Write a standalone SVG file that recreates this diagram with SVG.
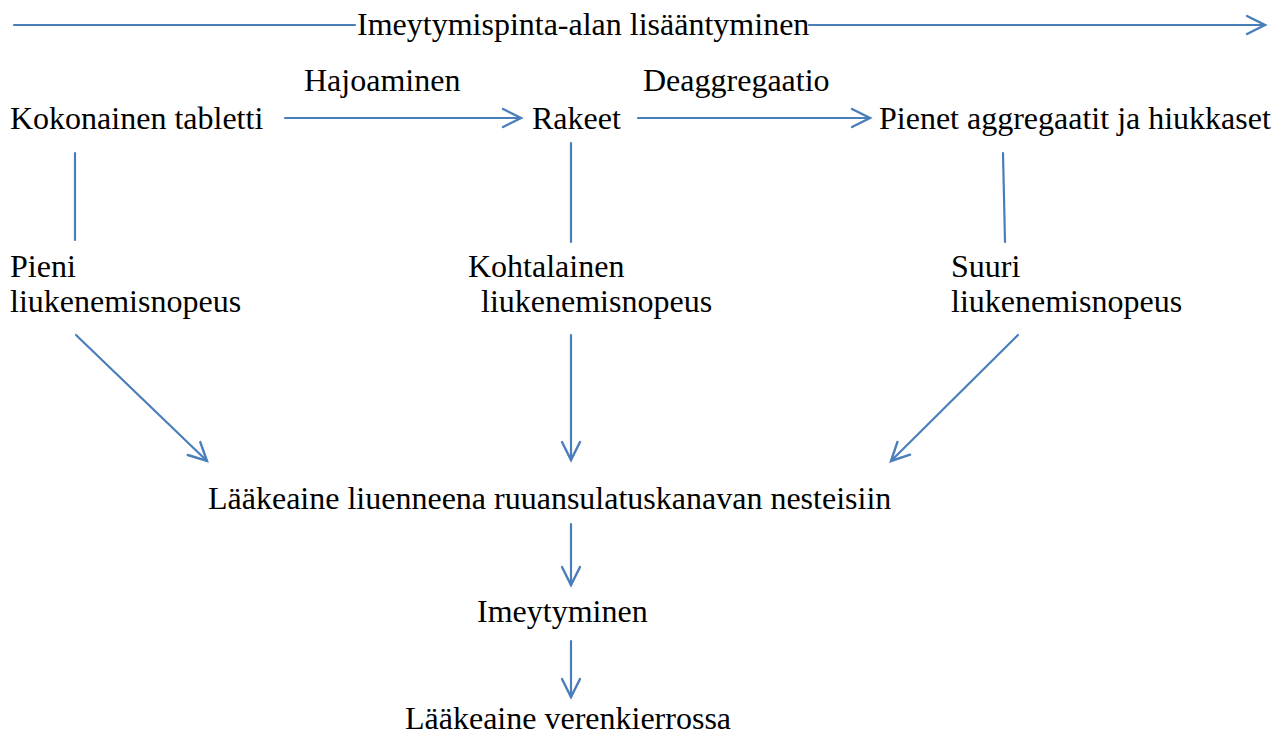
<svg xmlns="http://www.w3.org/2000/svg" width="1281" height="733" viewBox="0 0 1281 733">
<style>
text{font-family:"Liberation Serif","Times New Roman",serif;font-size:32px;fill:#000}
.c{stroke:#4a7ebb;stroke-width:2.2;fill:none;stroke-linecap:round}
</style>
<defs>
<marker id="ah" markerUnits="userSpaceOnUse" markerWidth="24" markerHeight="24" viewBox="-20 -12 24 24" refX="0" refY="0" orient="auto">
<path d="M-18,-9 L0,0 L-18,9" fill="none" stroke="#4a7ebb" stroke-width="2.4" stroke-linecap="round" stroke-linejoin="miter"/>
</marker>
</defs>
<rect width="1281" height="733" fill="#fff"/>
<g id="connectors">
<line class="c" x1="14" y1="25" x2="355" y2="25"/>
<line class="c" x1="809" y1="25" x2="1265" y2="25" marker-end="url(#ah)"/>
<line class="c" x1="285" y1="118" x2="521" y2="118" marker-end="url(#ah)"/>
<line class="c" x1="638" y1="118" x2="870" y2="118" marker-end="url(#ah)"/>
<line class="c" x1="75" y1="153" x2="75" y2="240"/>
<line class="c" x1="571" y1="143" x2="571" y2="242"/>
<line class="c" x1="1003" y1="153" x2="1005" y2="242"/>
<line class="c" x1="76" y1="335" x2="207" y2="461" marker-end="url(#ah)"/>
<line class="c" x1="571" y1="335" x2="571" y2="460" marker-end="url(#ah)"/>
<line class="c" x1="1018" y1="335" x2="891" y2="461" marker-end="url(#ah)"/>
<line class="c" x1="571" y1="524" x2="571" y2="585" marker-end="url(#ah)"/>
<line class="c" x1="571" y1="641" x2="571" y2="697" marker-end="url(#ah)"/>
</g>
<g id="top-label"><text x="357" y="35">Imeytymispinta-alan lisääntyminen</text></g>
<g id="label-hajoaminen"><text x="304" y="91">Hajoaminen</text></g>
<g id="label-deaggregaatio"><text x="643" y="91">Deaggregaatio</text></g>
<g id="node-tabletti"><text x="10" y="129">Kokonainen tabletti</text></g>
<g id="node-rakeet"><text x="532" y="129">Rakeet</text></g>
<g id="node-pienet"><text x="879" y="129">Pienet aggregaatit ja hiukkaset</text></g>
<g id="node-pieni"><text x="10" y="277">Pieni</text><text x="10" y="312">liukenemisnopeus</text></g>
<g id="node-kohtalainen"><text x="468" y="277">Kohtalainen</text><text x="481" y="312">liukenemisnopeus</text></g>
<g id="node-suuri"><text x="951" y="277">Suuri</text><text x="951" y="312">liukenemisnopeus</text></g>
<g id="node-liuenneena"><text x="208" y="509">Lääkeaine liuenneena ruuansulatuskanavan nesteisiin</text></g>
<g id="node-imeytyminen"><text x="477" y="622">Imeytyminen</text></g>
<g id="node-verenkierrossa"><text x="405" y="729">Lääkeaine verenkierrossa</text></g>
</svg>
